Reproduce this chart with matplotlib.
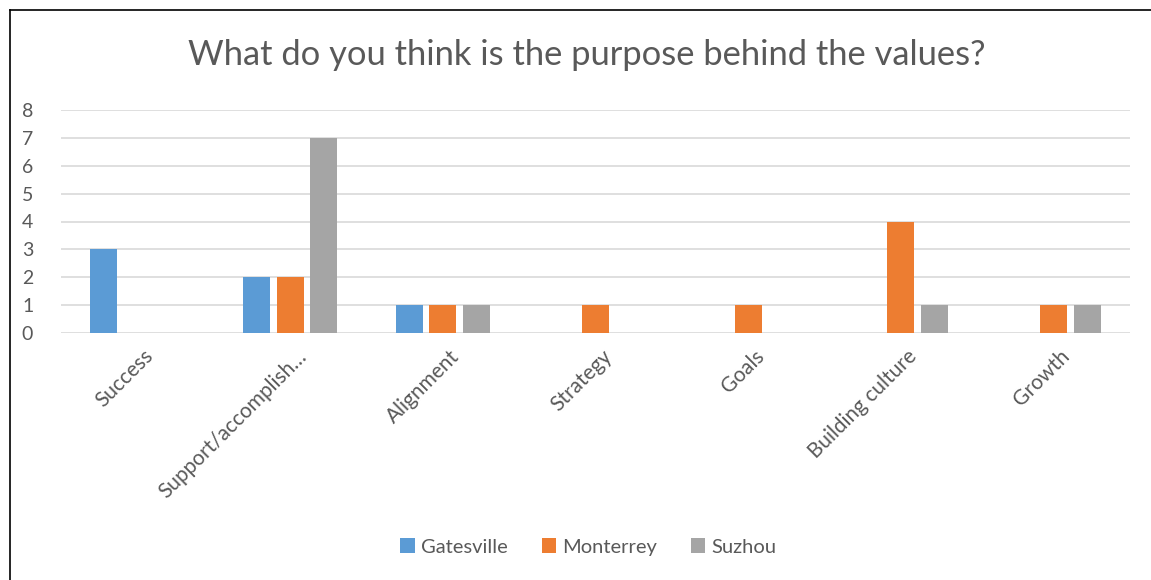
import numpy as np
import matplotlib.pyplot as plt
import matplotlib.transforms as mtransforms
from matplotlib.lines import Line2D

categories = ['Success', 'Support/accomplish…', 'Alignment', 'Strategy', 'Goals',
              'Building culture', 'Growth']
gatesville = [3, 2, 1, 0, 0, 0, 0]
monterrey = [0, 2, 1, 1, 1, 4, 1]
suzhou = [0, 7, 1, 0, 0, 1, 1]
series = ['Gatesville', 'Monterrey', 'Suzhou']

colors = ['#5b9bd5', '#ed7d31', '#a5a5a5']
txt = '#595959'
plt.rcParams['font.family'] = ['Lato', 'DejaVu Sans']

W, H = 1151, 580
fig = plt.figure(figsize=(W / 100, H / 100), dpi=100)
ax = fig.add_axes([61 / W, 1 - 333 / H, (1130 - 61) / W, (333 - 110) / H])

x = np.arange(len(categories))
bw = 0.177
step = 0.22
for i, (vals, name) in enumerate(zip([gatesville, monterrey, suzhou], series)):
    ax.bar(x + (i - 1) * step, vals, width=bw, color=colors[i], label=name, zorder=3)

ax.set_xlim(-0.5, len(categories) - 0.5)
ax.set_ylim(0, 8)
ax.set_yticks(range(9))
ax.grid(axis='y', color='#d9d9d9', linewidth=1.2, zorder=0)
for s in ax.spines.values():
    s.set_visible(False)
ax.tick_params(axis='y', length=0, colors=txt, labelsize=14, pad=20)
ax.set_xticks(x)
ax.set_xticklabels(categories, rotation=45, ha='right', va='top', rotation_mode='anchor')
ax.tick_params(axis='x', length=0, colors=txt, labelsize=15, pad=13)
# nudge rotated labels a little right/up like the original
shift = mtransforms.ScaledTranslation(6 / 100, 5 / 100, fig.dpi_scale_trans)
for lab in ax.get_xticklabels():
    lab.set_transform(lab.get_transform() + shift)

fig.text(0.51, 1 - 55 / H, 'What do you think is the purpose behind the values?',
         ha='center', va='center', fontsize=24.8, color=txt)

leg = fig.legend(loc='center', bbox_to_anchor=(0.511, 1 - 547 / H), ncol=3, frameon=False,
                 fontsize=14.5, handlelength=0.7, handleheight=0.7, handletextpad=0.3,
                 columnspacing=1.7, labelcolor=txt)

fig.add_artist(Line2D([9.5 / W, 9.5 / W], [0, 1 - 9.5 / H], color='black', linewidth=1.2))
fig.add_artist(Line2D([9.5 / W, 1], [1 - 9.5 / H, 1 - 9.5 / H], color='black', linewidth=1.2))

fig.savefig('out.png', dpi=100)
